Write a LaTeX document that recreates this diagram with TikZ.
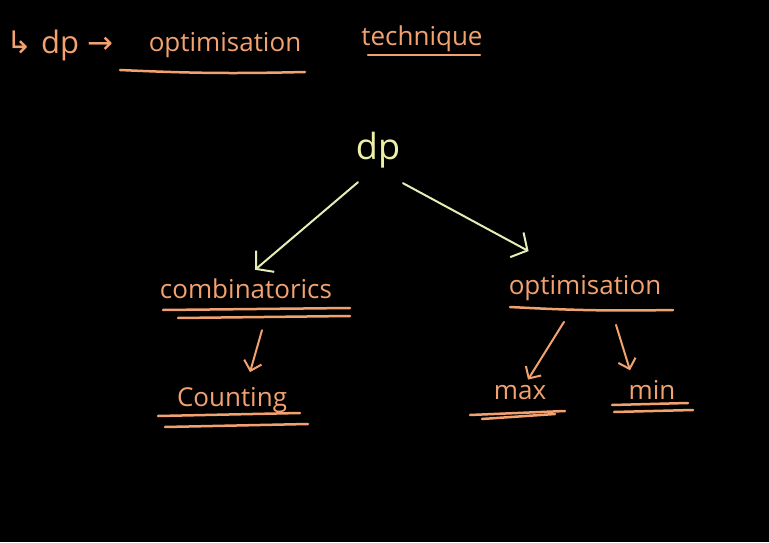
\documentclass[tikz,border=0pt]{standalone}
\usepackage{fontspec}
\setmainfont{Open Sans}
\newfontfamily\symfont{DejaVu Sans}
\usetikzlibrary{positioning,arrows.meta}
\usepackage{xcolor}
\definecolor{chalkorange}{RGB}{242,162,112}
\definecolor{chalkyellow}{RGB}{238,240,165}
\definecolor{chalkgreen}{RGB}{228,238,182}

\begin{document}
\begin{tikzpicture}[x=1pt, y=1pt,
    every node/.style={text=chalkorange, font=\fontsize{26}{30}\selectfont, inner sep=2pt},
    ul/.style={draw=chalkorange, line width=2.5pt, line cap=round},
    dpline/.style={draw=chalkgreen, line width=2pt, line cap=round, -{Straight Barb[length=12pt, width=28pt]}},
    subline/.style={draw=chalkorange, line width=2pt, line cap=round, -{Straight Barb[length=9pt, width=18pt]}}]
    \fill[black] (0,0) rectangle (769,542);

    % heading
    \node[font=\fontsize{31}{34}\selectfont] (head) at (60,497) {{\symfont ↳} dp {\symfont →}};
    \node (opt) at (225,497) {optimisation};
    \node (tech) at (422,503) {technique};
    \draw[ul] (120,472) to[bend right=2] (305,470);
    \draw[ul] (368,487) -- (480,487);

    % tree
    \node[text=chalkyellow, font=\fontsize{36}{40}\selectfont] (dp) at (378,392) {dp};
    \node (comb) at (246,253) {combinatorics};
    \node (count) at (232,142) {Counting};
    \node (optim) at (585,254) {optimisation};
    \node (max) at (520,149) {max};
    \node (min) at (652,152) {min};

    \draw[ul] (163,232) -- (350,234);
    \draw[ul] (178,224) -- (350,226);
    \draw[ul] (158,126) -- (300,129);
    \draw[ul] (165,115) -- (308,118);
    \draw[ul] (510,235) to[bend right=2] (673,232);
    \draw[ul] (470,127) -- (565,131);
    \draw[ul] (482,123) -- (555,128);
    \draw[ul] (612,137) -- (688,139);
    \draw[ul] (614,130) -- (693,132);

    \draw[dpline] ([xshift=-20pt, yshift=-12pt]dp.south) -- ([xshift=9pt, yshift=7pt]comb.north);
    \draw[dpline] ([xshift=25pt, yshift=-13pt]dp.south) -- ([xshift=22pt, yshift=22pt]optim.north west);
    \draw[subline] ([xshift=16pt, yshift=-29pt]comb.south) -- ([xshift=18pt, yshift=13pt]count.north);
    \draw[subline] ([xshift=-21pt, yshift=-19pt]optim.south) -- ([xshift=8pt, yshift=4pt]max.north);
    \draw[subline] ([xshift=31pt, yshift=-22pt]optim.south) -- ([xshift=-22pt, yshift=8pt]min.north);
\end{tikzpicture}
\end{document}
